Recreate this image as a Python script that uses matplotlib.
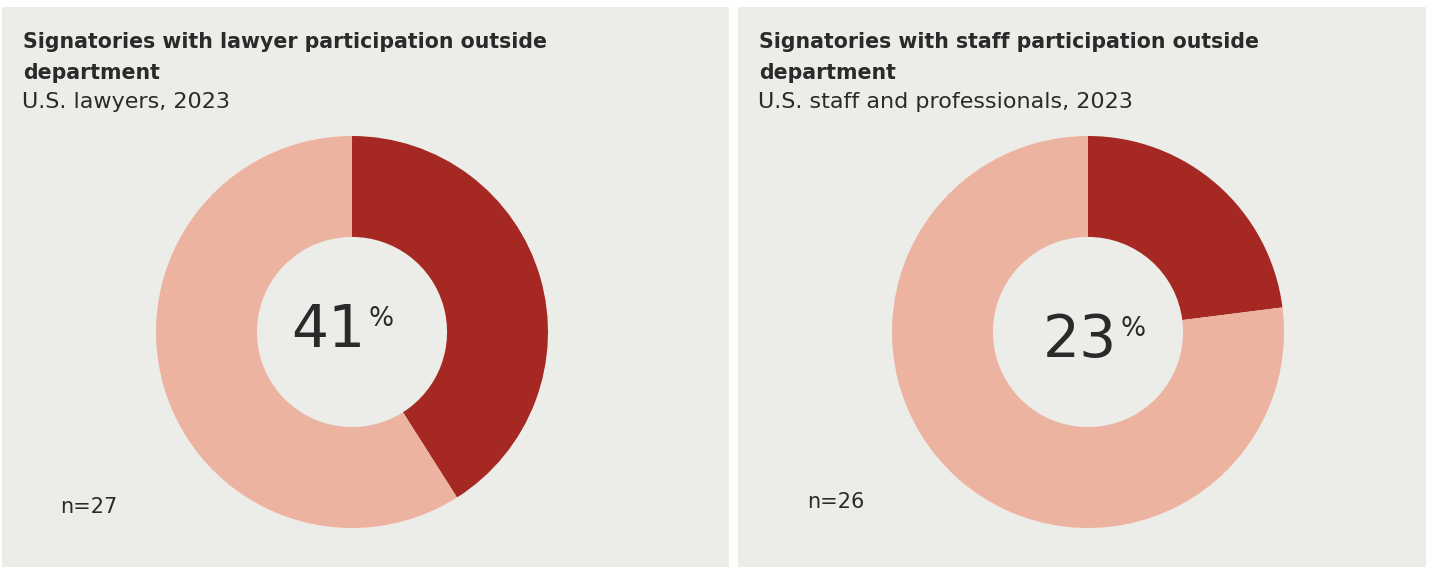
import matplotlib

matplotlib.use("Agg")

import matplotlib.pyplot as plt
from matplotlib.patches import Rectangle

# data
TITLES = [
    "Signatories with lawyer participation outside\ndepartment",
    "Signatories with staff participation outside\ndepartment",
]
SUBTITLES = ["U.S. lawyers, 2023", "U.S. staff and professionals, 2023"]
SHARES = [41, 23]
SAMPLE_N = [27, 26]

W, H = 1432, 567
BG = "#ecece8"
DARK = "#a52823"
LIGHT = "#ecb3a1"
TEXT = "#2a2a2a"

plt.rcParams["font.family"] = ["DejaVu Sans"]

fig = plt.figure(figsize=(W / 100, H / 100), dpi=100)
fig.patch.set_facecolor("white")


def fx(px):
    return px / W


def fy(py):
    return 1 - py / H


# panel boxes (left, right) in pixels
panels = [(2, 729), (738, 1426)]
centers = [(352, 332), (1088, 332)]
num_pos = [(365, 347), (1117, 357)]
n_pos = [(60, 513), (807, 508)]
radius = 196

for i, (x0, x1) in enumerate(panels):
    fig.patches.append(
        Rectangle((fx(x0), 0), fx(x1 - x0), fy(7), transform=fig.transFigure,
                  facecolor=BG, edgecolor="none", zorder=-5)
    )
    for k, line in enumerate(TITLES[i].split("\n")):
        fig.text(fx(x0 + 21), fy(48 + 31 * k), line, ha="left", va="baseline",
                 fontsize=14.8, fontweight="bold", color=TEXT)
    fig.text(fx(x0 + 20), fy(108), SUBTITLES[i], ha="left", va="baseline", fontsize=16,
             color=TEXT)

    cx, cy = centers[i]
    ax = fig.add_axes([fx(cx - radius), fy(cy + radius), fx(2 * radius), 2 * radius / H])
    share = SHARES[i]
    ax.pie([share, 100 - share], colors=[DARK, LIGHT], startangle=90, counterclock=False,
           radius=1, wedgeprops=dict(width=0.515, linewidth=0))
    ax.set_xlim(-1, 1)
    ax.set_ylim(-1, 1)
    ax.set_facecolor("none")

    nx, ny = num_pos[i]
    fig.text(fx(nx), fy(ny), f"{share}", ha="right", va="baseline", fontsize=42,
             color=TEXT)
    fig.text(fx(nx + 4), fy(ny - 21), "%", ha="left", va="baseline", fontsize=19,
             color=TEXT)

    px, py = n_pos[i]
    fig.text(fx(px), fy(py), f"n={SAMPLE_N[i]}", ha="left", va="baseline", fontsize=15,
             color=TEXT)

fig.savefig("out.png", dpi=100, facecolor=fig.get_facecolor())
